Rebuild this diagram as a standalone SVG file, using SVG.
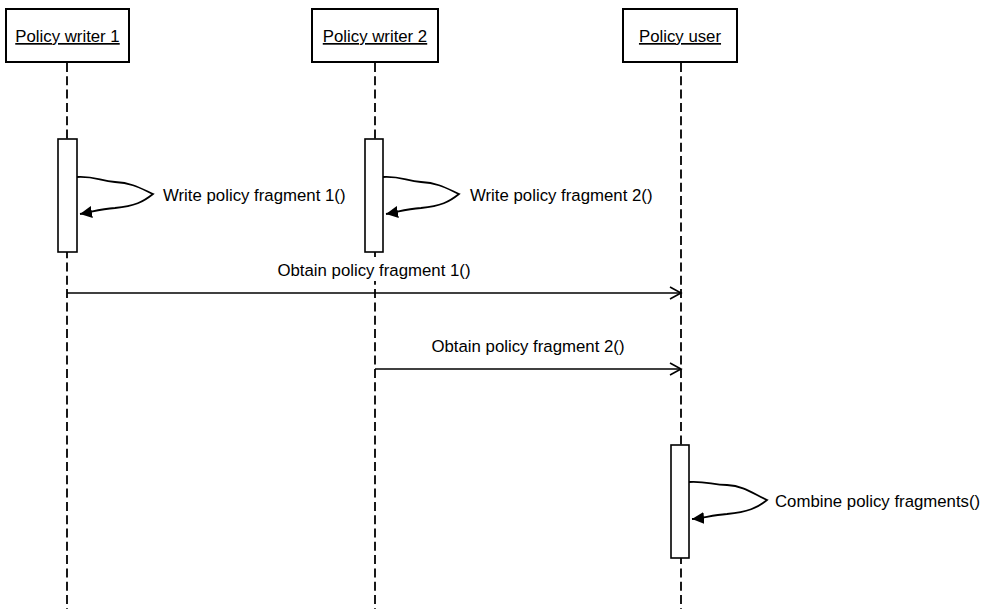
<svg xmlns="http://www.w3.org/2000/svg" width="985" height="609" viewBox="0 0 985 609">
  <style>
    .box { fill: #fff; stroke: #000; stroke-width: 2; }
    .bar { fill: #fff; stroke: #000; stroke-width: 1.6; }
    .life { stroke: #000; stroke-width: 1.8; stroke-dasharray: 9 4.3; fill: none; }
    .msg { stroke: #000; stroke-width: 1.6; fill: none; }
    .self { stroke: #000; stroke-width: 1.8; fill: none; }
    .bg { fill: #fff; }
    text { font-family: "Liberation Sans", Arial, sans-serif; font-size: 16.8px; fill: #000; }
    .title { text-decoration: underline; text-anchor: middle; }
    .mid { text-anchor: middle; }
  </style>
  <defs>
    <marker id="open" markerWidth="14" markerHeight="14" refX="12" refY="7" orient="auto" markerUnits="userSpaceOnUse">
      <path d="M1,1 L12,7 L1,13" fill="none" stroke="#000" stroke-width="1.6"/>
    </marker>
    <marker id="solid" markerWidth="14" markerHeight="12" refX="12" refY="6" orient="auto" markerUnits="userSpaceOnUse">
      <path d="M0,0 L12,6 L0,12 Z" fill="#000"/>
    </marker>
  </defs>

  <!-- lifelines -->
  <g id="lifelines">
    <line class="life" x1="67" y1="63" x2="67" y2="609"/>
    <line class="life" x1="375" y1="63" x2="375" y2="609"/>
    <line class="life" x1="681" y1="63" x2="681" y2="609"/>
  </g>

  <g id="writer1">
    <rect class="box" x="6" y="9" width="123" height="53"/>
    <text class="title" x="67.5" y="42">Policy writer 1</text>
    <rect class="bar" x="58" y="139" width="19" height="113"/>
  </g>

  <g id="writer2">
    <rect class="box" x="312" y="9" width="126" height="53"/>
    <text class="title" x="375" y="42">Policy writer 2</text>
    <rect class="bar" x="365" y="139" width="18" height="113"/>
  </g>

  <g id="user">
    <rect class="box" x="623" y="9" width="114" height="53"/>
    <text class="title" x="680" y="42">Policy user</text>
    <rect class="bar" x="671" y="445" width="18" height="113"/>
  </g>

  <!-- messages -->
  <g id="connectors">
    <path class="self" marker-end="url(#solid)" d="M77,177 C95,176 100,181 115,182 C132,183 140,188 153,194 C143,202 135,206 115,208 C100,209 92,212 80,214"/>
    <path class="self" marker-end="url(#solid)" d="M383,177 C401,176 406,181 421,182 C438,183 446,188 459,194 C449,202 441,206 421,208 C406,209 398,212 386,214"/>
    <path class="self" marker-end="url(#solid)" d="M689,482 C707,481 712,485 727,485 C744,486 752,493 767,500 C757,508 748,512 727,514 C712,515 704,518 692,519"/>
    <line class="msg" marker-end="url(#open)" x1="67" y1="293" x2="681" y2="293"/>
    <line class="msg" marker-end="url(#open)" x1="375" y1="369" x2="681" y2="369"/>
  </g>

  <g id="labels">
    <text x="163" y="201">Write policy fragment 1()</text>
    <text x="470" y="201">Write policy fragment 2()</text>
    <rect class="bg" x="272" y="257" width="204" height="24"/>
    <text class="mid" x="374" y="276">Obtain policy fragment 1()</text>
    <text class="mid" x="528" y="352">Obtain policy fragment 2()</text>
    <text x="775" y="507">Combine policy fragments()</text>
  </g>
</svg>
